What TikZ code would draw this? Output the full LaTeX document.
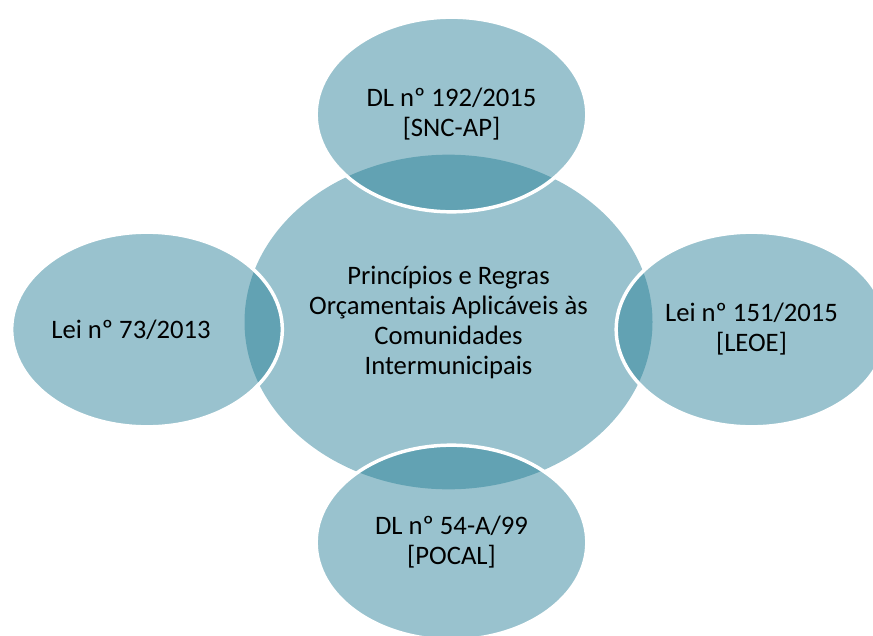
\documentclass[tikz,border=0pt]{standalone}
\usepackage{fontspec}
\setmainfont{Carlito}
\usetikzlibrary{shapes.geometric}
\definecolor{vennblue}{RGB}{38,126,150}

\tikzset{
    venn/.style={ellipse, fill=vennblue, fill opacity=0.47, text opacity=1, inner sep=0pt, align=center,
        font=\fontsize{20}{22.5}\selectfont},
    satelite/.style={venn, draw=white, line width=2.6pt, minimum width=203pt, minimum height=146pt}
}

\begin{document}
\begin{tikzpicture}[x=0.75pt,y=-0.75pt]
            \useasboundingbox (0,0) rectangle (873,635);
            \clip (0,0) rectangle (873,635);
            \node[venn, minimum width=306pt, minimum height=251pt] (principios) at (448.5,322){Princípios e Regras\\Orçamentais Aplicáveis às\\Comunidades\\Intermunicipais};
            \node[satelite] (snc) at (451.5,114.5){DL nº 192/2015\\{[SNC-AP]}};
            \node[satelite] (leoe) at (751.5,329.5){Lei nº 151/2015\\{[LEOE]}};
            \node[satelite] (pocal) at (451.5,542.5){DL nº 54-A/99\\{[POCAL]}};
            \node[satelite] (lei73) at (147,329.5){Lei nº 73/2013\rule{24pt}{0pt}};
		\end{tikzpicture}
\end{document}
